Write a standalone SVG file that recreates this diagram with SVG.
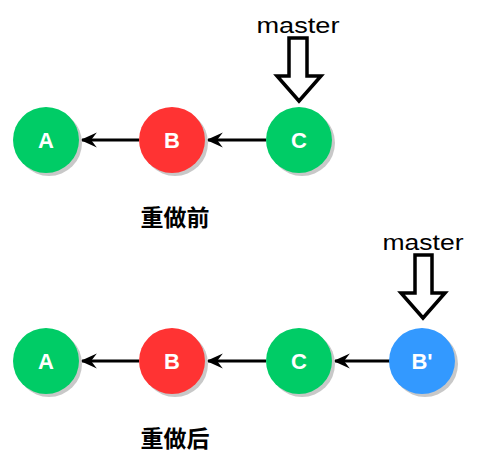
<svg xmlns="http://www.w3.org/2000/svg" width="481" height="458" viewBox="0 0 481 458">
<style>
.shadow{fill:#c8c8c8}
.green{fill:#00cc66}
.red{fill:#ff3333}
.blue{fill:#3399ff}
.lbl{font-family:"Comic Sans MS","Liberation Sans",sans-serif;font-size:22px;font-weight:bold;fill:#fff;text-anchor:middle}
.master{font-family:"Comic Sans MS","Liberation Sans",sans-serif;font-size:22px;fill:#000;text-anchor:middle}
.cap{font-family:"Liberation Sans","Noto Sans CJK SC",sans-serif;font-size:23px;font-weight:bold;fill:#000;text-anchor:middle}
.edge{stroke:#000;stroke-width:3;fill:none;marker-end:url(#ah)}
.ptr{fill:#fff;stroke:#000;stroke-width:3.5;stroke-linejoin:miter}
</style>
<defs>
<marker id="ah" viewBox="0 0 10 10" refX="9" refY="5" markerWidth="5.5" markerHeight="5.5" orient="auto" markerUnits="strokeWidth">
<path d="M10,5 L0,0.5 L3.5,5 L0,9.5 Z" fill="#000"/>
</marker>
</defs>
<g id="connectors">
<line class="edge" x1="139" y1="140" x2="82" y2="140"/>
<line class="edge" x1="266" y1="140" x2="208" y2="140"/>
<line class="edge" x1="139" y1="361" x2="82" y2="361"/>
<line class="edge" x1="266" y1="361" x2="208" y2="361"/>
<line class="edge" x1="390" y1="361" x2="335" y2="361"/>
</g>
<g id="master1">
<text class="master" x="298" y="33" textLength="83" lengthAdjust="spacingAndGlyphs">master</text>
<path class="ptr" d="M289,38 L307,38 L307,76 L321,76 L299,101 L277,76 L289,76 Z"/>
</g>
<g id="master2">
<text class="master" x="423" y="250" textLength="81" lengthAdjust="spacingAndGlyphs">master</text>
<path class="ptr" d="M415,255 L432,255 L432,293 L445,293 L423,318 L401,293 L415,293 Z"/>
</g>
<g id="A1"><circle class="shadow" cx="49" cy="143" r="33"/><circle class="green" cx="46" cy="140" r="33"/><text class="lbl" x="46" y="148">A</text></g>
<g id="B1"><circle class="shadow" cx="175" cy="143" r="33"/><circle class="red" cx="172" cy="140" r="33"/><text class="lbl" x="172" y="148">B</text></g>
<g id="C1"><circle class="shadow" cx="302" cy="143" r="33"/><circle class="green" cx="299" cy="140" r="33"/><text class="lbl" x="299" y="148">C</text></g>
<g id="cap1"><text class="cap" x="175" y="226">重做前</text></g>
<g id="A2"><circle class="shadow" cx="49" cy="364" r="33"/><circle class="green" cx="46" cy="361" r="33"/><text class="lbl" x="46" y="369">A</text></g>
<g id="B2"><circle class="shadow" cx="175" cy="364" r="33"/><circle class="red" cx="172" cy="361" r="33"/><text class="lbl" x="172" y="369">B</text></g>
<g id="C2"><circle class="shadow" cx="302" cy="364" r="33"/><circle class="green" cx="299" cy="361" r="33"/><text class="lbl" x="299" y="369">C</text></g>
<g id="Bp"><circle class="shadow" cx="425" cy="364" r="33"/><circle class="blue" cx="422" cy="361" r="33"/><text class="lbl" x="422" y="369">B'</text></g>
<g id="cap2"><text class="cap" x="175" y="447">重做后</text></g>
</svg>
